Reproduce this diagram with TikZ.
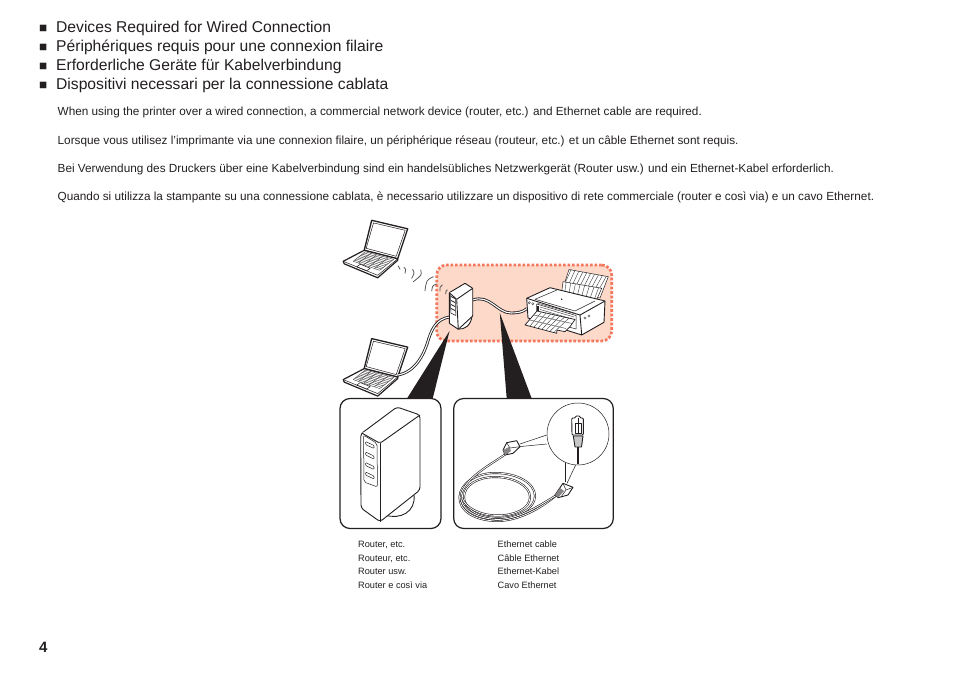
\documentclass[tikz,border=0pt]{standalone}
\usepackage{fontspec}
\setmainfont{Liberation Sans}
\usetikzlibrary{calc}
\definecolor{ink}{HTML}{231F20}
\definecolor{peach}{HTML}{FCD9C9}
\definecolor{dots}{HTML}{F4765C}
\tikzset{
  headtxt/.style={anchor=base west,inner sep=0pt,text=ink,font=\fontsize{15.65}{15.65}\selectfont},
  bodytxt/.style={anchor=base west,inner sep=0pt,text=ink,font=\fontsize{11.77}{11.77}\selectfont},
  captxt/.style={anchor=base west,inner sep=0pt,text=ink,font=\fontsize{9.2}{9.2}\selectfont},
  panelbox/.style={draw=ink,line width=1.2pt,rounded corners=10pt,fill=white},
  ln/.style={draw=ink,line width=0.9pt,line join=round,fill=white},
  fineln/.style={draw=ink,line width=0.5pt,line join=round},
  hairln/.style={draw=ink!85,line width=0.42pt},
  wire/.style={draw=ink,line width=0.85pt,double=white,double distance=1.1pt},
  cablewire/.style={draw=ink,line width=0.6pt,double=white,double distance=0.8pt},
  wavearc/.style={draw=ink!75,line width=0.8pt,line cap=round},
  wedgefill/.style={fill=ink,draw=none},
}
\newcommand{\lapt}[2]{%
\begin{scope}[shift={(#1,#2)}]
  \draw[ln,line width=1.3pt] (0,0) -- (36,8.5) -- (26,38.5) -- (-7.5,30) -- cycle;
  \draw[fineln] (1.8,2.6) -- (33.5,10) -- (24.5,36) -- (-5.5,28) -- cycle;
  \draw[ln,line width=1.2pt] (-7.5,30) -- (-28.5,41) -- (-27.5,43.5) -- (6,57.5) -- (26,40) -- (26,38.5) -- cycle;
  \draw[fineln] (-28.5,41) -- (6,55) -- (26,38.5);
  \foreach \t in {0,0.2,0.4,0.6,0.8,1}{
    \draw[hairln] ($(-6.5,31.5)!\t!(22,39)$) -- ($(-18.5,41)!\t!(8,50)$);}
  \foreach \t in {0,0.125,0.25,...,1}{
    \draw[hairln] ($(-6.5,31.5)!\t!(-18.5,41)$) -- ($(22,39)!\t!(8,50)$);}
  \draw[fineln] (-15,46.5) -- (-5,50.5) -- (-1.5,48) -- (-11.5,44) -- cycle;
\end{scope}}
\begin{document}
\begin{tikzpicture}[x=1pt,y=-1pt]
\useasboundingbox (0,0) rectangle (954,676);
% headings
\foreach \i/\y/\t in {a/32.4/Devices Required for Wired Connection,
  b/51.4/Périphériques requis pour une connexion filaire,
  c/70.4/Erforderliche Geräte für Kabelverbindung,
  d/89.4/Dispositivi necessari per la connessione cablata}{
  \node[headtxt] (h\i) at (39,\y) {\makebox[17pt][l]{\fontsize{13.5}{13.5}\selectfont ■}\t};}
\node[bodytxt] (t1) at (57.5,115.3) {When using the printer over a wired connection, a commercial network device (router, etc.) and Ethernet cable are required.};
\node[bodytxt] (t2) at (57.5,144.3) {Lorsque vous utilisez l’imprimante via une connexion filaire, un périphérique réseau (routeur, etc.) et un câble Ethernet sont requis.};
\node[bodytxt] (t3) at (57.5,172.3) {Bei Verwendung des Druckers über eine Kabelverbindung sind ein handelsübliches Netzwerkgerät (Router usw.) und ein Ethernet-Kabel erforderlich.};
\node[bodytxt] (t4) at (57.5,200.3) {Quando si utilizza la stampante su una connessione cablata, è necessario utilizzare un dispositivo di rete commerciale (router e così via) e un cavo Ethernet.};
% peach region
\node[fill=peach,draw=dots,line width=2.7pt,dash pattern=on 2.6pt off 1.9pt,rounded corners=10pt,minimum width=175pt,minimum height=76pt,inner sep=0pt] (zone) at (524.2,303) {};
% waves
\draw[wavearc] (398.3,266) .. controls (399.8,267) .. (400,269.3);
\draw[wavearc] (404,267.3) .. controls (406,269) .. (405,273.3);
\draw[wavearc] (412.7,269.3) .. controls (414.5,273) .. (411.7,278.3);
\draw[wavearc] (420.7,270) .. controls (422,275) .. (413.3,281.7);
\draw[wavearc] (433.3,276.7) .. controls (426.5,280) .. (425,290.7);
\draw[wavearc] (436.7,284) .. controls (432.5,285.5) .. (431.7,291);
\draw[wavearc] (442.3,285) .. controls (440,286.5) .. (440,291);
\draw[wavearc] (447.3,290) .. controls (445.8,291) .. (445.7,294);
% laptops
\lapt{371.7}{220.3}
\lapt{371.7}{338.6}
% wires
\coordinate (lanA) at (449.5,317);
\coordinate (lanB) at (398,375);
\coordinate (rtA) at (472.7,300);
\coordinate (prA) at (527,308.5);
\draw[wire] (lanA) .. controls (437,319) and (432,328) .. (428.3,340) .. controls (424,355) and (415,372) .. (lanB);
\draw[wire] (rtA) .. controls (490,294) and (497,313) .. (511,313) .. controls (518,313) and (523,312) .. (prA);
% small router
\draw[ln] (458,329) .. controls (465,330) and (471,325) .. (472,316) -- (462,316) -- cycle;
\draw[ln,rounded corners=0.6pt] (449.3,292.7) -- (465,283.3) -- (472.7,288.3) -- (472.7,316) -- (458.3,329.3) -- (449.3,323.3) -- cycle;
\draw[ln] (449.3,292.7) -- (456.7,299.3) -- (472.7,288.3);
\draw[ln] (456.7,299.3) -- (458.3,329.3);
\foreach \y in {296.5,300.5,304.5,308.5}{\draw[fineln,line width=0.7pt] (451,\y) -- (455,\y+2);}
\draw[fineln] (450.5,294.5) -- (450.8,313) -- (455.8,315.5) -- (455.5,299);
% printer paper supports
\draw[fineln,fill=white] (569,269.5) -- (608.3,276.7) -- (600,298) -- (562,291) -- cycle;
\foreach \t in {0.05,0.15,...,0.96}{\draw[hairln] ($(569,269.5)!\t!(608.3,276.7)$) -- ($(563.5,282)!\t!(601.7,288.3)$);}
\draw[fineln,fill=white] (563,281.7) -- (601.7,288.3) -- (596,301) -- (561.7,292) -- cycle;
\foreach \t in {0.08,0.2,...,0.95}{\draw[hairln] ($(563,281.7)!\t!(601.7,288.3)$) -- ($(561.7,294)!\t!(596,303)$);}
% printer body
\draw[ln] (526.7,298.3) -- (550,287.7) -- (605,301) -- (604,322.3) -- (581.7,335) -- (528,318) -- cycle;
\draw[ln] (526.7,298.3) -- (580,315) -- (605,301);
\draw[ln] (580,315) -- (581.7,335);
\draw[fineln] (535,299.3) -- (557,290);
\draw[fineln] (535,299.3) -- (575,311) -- (595,301);
\draw[hairln] (537,303) -- (576,314);
\draw[fineln] (536.5,304) -- (576,315.5) -- (576,329) -- (536.5,318) -- cycle;
\draw[hairln] (540,307) -- (574,317) (540,309.5) -- (574,319.5);
\fill[ink] (561.7,299.3) circle (0.8pt);
\fill[ink] (536.5,306.5) rectangle (539.3,313.5);
\draw[hairln] (529.3,302.7) circle (1.1pt) (532.7,303.7) circle (1.1pt) (585,318) circle (1.1pt) (589,316) circle (1.1pt);
% printer tray
\draw[ln,line width=0.7pt] (525,325) -- (537,311) -- (575,319.5) -- (570,326.7) -- (565,331.7) -- (557,330) -- (556.7,333.3) -- cycle;
\foreach \t in {0.12,0.24,...,0.9}{\draw[hairln] ($(537,311)!\t!(575,319.5)$) -- ($(526,325)!\t!(560,333)$);}
\draw[hairln] (530,320) -- (566,328.5) (534,315) -- (572,323.5);
% pointers
\coordinate (w1a) at (449.5,331);
\coordinate (w1b) at (407,398.5);
\coordinate (w1c) at (432.7,398.5);
\coordinate (w2a) at (499.8,313);
\coordinate (w2b) at (506.7,398.5);
\coordinate (w2c) at (531.7,398.5);
\fill[wedgefill] (w1a) -- (w1b) -- (w1c) -- cycle;
\fill[wedgefill] (w2a) -- (w2b) -- (w2c) -- cycle;
% panels
\node[panelbox,minimum width=101pt,minimum height=130pt,inner sep=0pt] (p1) at (390.5,463.5) {};
\node[panelbox,minimum width=159.6pt,minimum height=130pt,inner sep=0pt] (p2) at (533.5,463.5) {};
% big router
\draw[ln] (385,515) .. controls (400,520) and (416,512) .. (414,495) -- (400,495) -- cycle;
\draw[ln,rounded corners=3pt] (360.7,434) -- (397,407) -- (420,415) -- (420,490) -- (380,521.7) -- (361,508) -- cycle;
\draw[ln,rounded corners=2pt] (361.7,433) -- (380,443.3) -- (420,415);
\draw[ln] (380,443.3) -- (380,521.7);
\draw[fineln,rounded corners=2pt] (363.5,435) -- (377,443.5) -- (377.5,487) -- (364,482) -- cycle;
\foreach \y in {441.5,452,462.5,472}{
  \draw[fineln,rounded corners=1pt] (365.5,\y) -- (374,\y+4) -- (374,\y+7) -- (365.5,\y+3) -- cycle;}
% ethernet cable
\coordinate (plugA) at (505,454.5);
\coordinate (plugB) at (556,495.5);
\draw[cablewire] (plugB) .. controls (545,505) and (522,520.5) .. (498,521) .. controls (475,521) and (459,511) .. (459.5,497) .. controls (460,483) and (477,473) .. (495,473) .. controls (517,473) and (535,483) .. (535,496) .. controls (535,509) and (517,518) .. (498,518) .. controls (478,518) and (464,509) .. (464,497);
\draw[cablewire] (464,497) .. controls (464,485) and (478,477) .. (495,477) .. controls (514,477) and (530,486) .. (530,497) .. controls (530,509) and (514,515.5) .. (498,515.5) .. controls (480,515.5) and (466,508) .. (462,498);
\draw[cablewire] (plugA) .. controls (490,465) and (465,478) .. (461,495) .. controls (459,510) and (478,519) .. (498,519.5) .. controls (520,519) and (540,505) .. (plugB);
% magnifier
\node[draw=ink,line width=0.5pt,fill=white,circle,minimum size=62pt,inner sep=0pt] (lens) at (578,434) {};
\coordinate (ma) at (520,444);
\coordinate (mb) at (546.7,435);
\coordinate (mc) at (518.5,446.7);
\coordinate (md) at (547,444);
\coordinate (me) at (565,463);
\coordinate (mf) at (565,482);
\coordinate (mg) at (567,483.3);
\coordinate (mh) at (575.7,465);
\draw[fineln] (ma) -- (mb);
\draw[fineln] (mc) -- (md);
\draw[fineln] (me) -- (mf);
\draw[fineln] (mg) -- (mh);
% enlarged plug
\draw[draw=ink,line width=2pt] (577.8,447) -- (577.8,464.5);
\draw[ln,rounded corners=1pt] (575.5,416) -- (580,416) -- (580,418) -- (583.3,418) -- (583.3,435) -- (572,435) -- (571.7,418) -- (575.5,418) -- cycle;
\draw[fineln] (575,423) -- (581,423) -- (581,433) -- (575,433) -- cycle;
\draw[fineln] (578,418) -- (578,433);
\draw[ln,fill=ink!25] (573.3,436) -- (583,436) -- (581.5,447) -- (575,447) -- cycle;
% small plugs
\draw[ln] (503,450) -- (506.7,442.7) -- (516.7,440.7) -- (520,446.7) -- (513,453.3) -- (505,455) -- cycle;
\draw[fineln] (506.7,442.7) -- (510,448) -- (520,446.7) (510,448) -- (507,455);
\fill[ink!55] (503,450) -- (509,447) -- (511,451) -- (505,455) -- cycle;
\draw[ln] (555,495) -- (563,483.3) -- (573,487.3) -- (568,495) -- (558,497.7) -- cycle;
\draw[fineln] (563,483.3) -- (566,490) -- (573,487.3) (566,490) -- (561,497);
\fill[ink!55] (555,495) -- (560,488) -- (564,491) -- (558,497.7) -- cycle;
% captions
\node[captxt] (c1) at (358,547) {Router, etc.};
\node[captxt] (c2) at (358,561) {Routeur, etc.};
\node[captxt] (c3) at (358,574) {Router usw.};
\node[captxt] (c4) at (358,588) {Router e così via};
\node[captxt] (d1) at (497.5,547) {Ethernet cable};
\node[captxt] (d2) at (497.5,561) {Câble Ethernet};
\node[captxt] (d3) at (497.5,574) {Ethernet-Kabel};
\node[captxt] (d4) at (497.5,588) {Cavo Ethernet};
\node[anchor=base west,inner sep=0pt,text=ink,font=\fontsize{15}{15}\selectfont\bfseries] (pg) at (39,652) {4};
\end{tikzpicture}
\end{document}
